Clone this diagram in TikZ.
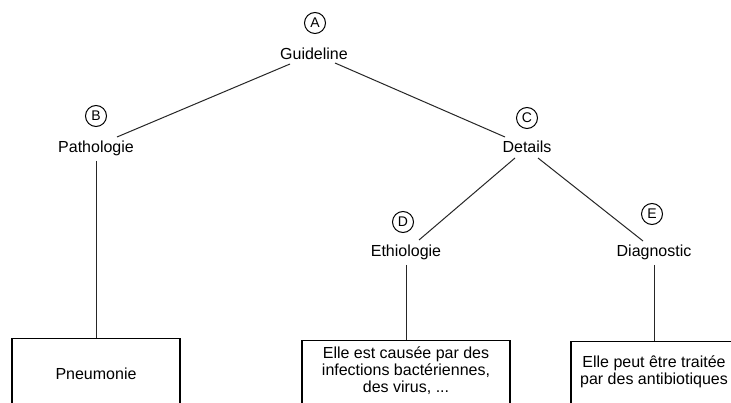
\documentclass[tikz,border=0pt]{standalone}
\usepackage{fontspec}
\setmainfont{Liberation Sans}
\begin{document}
\begin{tikzpicture}[x=1pt,y=-1pt,
    lbl/.style={font=\fontsize{16}{17}\selectfont, inner sep=0pt, anchor=base},
    tag/.style={draw, circle, line width=1pt, minimum size=21pt, inner sep=0pt, font=\fontsize{14}{14}\selectfont},
    leaf/.style={draw, line width=1.2pt, anchor=north, minimum height=70pt, align=center, inner sep=0pt, font=\fontsize{16}{17}\selectfont},
    link/.style={-, line width=1pt, black!85}]
    \useasboundingbox[fill=white] (0,0) rectangle (731,403);

    \node[tag] (ta) at (315,23) {A};
    \node[lbl] (gl) at (314,60) {Guideline};
    \node[tag] (tb) at (96,116) {B};
    \node[lbl] (pat) at (96,153) {Pathologie};
    \node[tag] (tc) at (527,118) {C};
    \node[lbl] (det) at (527,153) {Details};
    \node[tag] (td) at (403,222) {D};
    \node[lbl] (eth) at (406,257) {Ethiologie};
    \node[tag] (te) at (652,214) {E};
    \node[lbl] (dia) at (654,257) {Diagnostic};

    \node[leaf, minimum width=168pt] (pneu) at (96,338) {Pneumonie};
    \node[leaf, minimum width=208pt] (cause) at (406,340) {Elle est causée par des\\infections bactériennes,\\des virus, ...\rule[-12pt]{0pt}{0pt}};
    \node[leaf, minimum width=166pt] (treat) at (654,341) {Elle peut être traitée\\par des antibiotiques\rule[-12pt]{0pt}{0pt}};

    \draw[link] ([shift={(-24,4)}]gl.base) -- ([shift={(21,-16)}]pat.base);
    \draw[link] ([shift={(21,3)}]gl.base) -- ([shift={(-22,-16)}]det.base);
    \draw[link] ([shift={(-12,5)}]det.base) -- ([shift={(13,-17)}]eth.base);
    \draw[link] ([shift={(11,5)}]det.base) -- ([shift={(-11,-16)}]dia.base);
    \draw[link] ([yshift=-8pt]pat.base) -- (pneu.north);
    \draw[link] ([yshift=-8pt]eth.base) -- (cause.north);
    \draw[link] ([yshift=-8pt]dia.base) -- (treat.north);
\end{tikzpicture}
\end{document}
